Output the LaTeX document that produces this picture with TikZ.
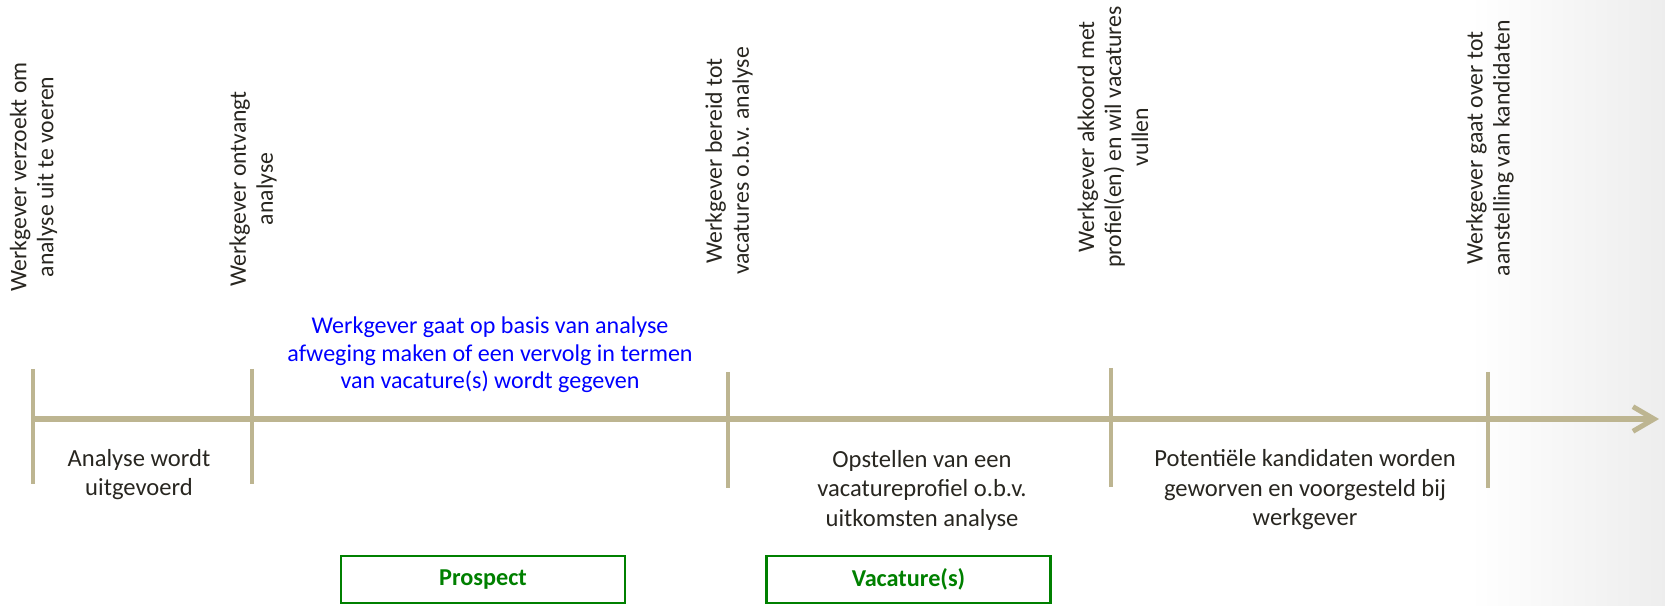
\documentclass[tikz,border=0pt]{standalone}
\usepackage{fontspec}
\setmainfont{Carlito}
\usetikzlibrary{arrows.meta}
\definecolor{khaki}{RGB}{189,181,145}
\definecolor{darktext}{RGB}{40,38,32}
\definecolor{boxgreen}{RGB}{0,128,0}

\begin{document}
\begin{tikzpicture}[
    event/.style={rotate=90, align=center, text=darktext, font=\fontsize{13.5}{15.4}\selectfont},
    remark/.style={align=center, text=blue, font=\fontsize{13.7}{15.7}\selectfont},
    phase/.style={align=center, text=darktext, font=\fontsize{14}{16.8}\selectfont},
    stagebox/.style={draw=boxgreen, line width=1.2pt, minimum width=5.68cm, minimum height=0.94cm, text=boxgreen, font=\bfseries\fontsize{13.8}{15}\selectfont},
    tickline/.style={khaki, line width=2.6pt},
    timeline/.style={khaki, line width=2.85pt}
  ]
    \useasboundingbox (0, 0) rectangle (33.3, 12.12);
    \shade[left color=white, right color=black!7] (29.4, 0) rectangle (33.3, 12.12);

    \coordinate (start) at (0.66, 3.74);
    \coordinate (end) at (33.18, 3.74);
    \draw[timeline, -{Straight Barb[length=12pt, width=14pt]}] (start) -- (end);
    \foreach \x/\top/\bot/\n in {0.66/4.74/2.44/t1, 5.04/4.74/2.44/t2, 14.56/4.68/2.36/t3, 22.22/4.76/2.38/t4, 29.76/4.68/2.36/t5} {
      \coordinate (\n top) at (\x, \top);
      \coordinate (\n bot) at (\x, \bot);
      \draw[tickline] (\n top) -- (\n bot);
    }

    \node[event] (verzoek) at (0.67, 8.58) {Werkgever verzoekt om\\analyse uit te voeren};
    \node[event] (ontvangt) at (5.06, 8.34) {Werkgever ontvangt\\analyse};
    \node[event] (bereid) at (14.58, 8.9) {Werkgever bereid tot\\vacatures o.b.v. analyse};
    \node[event] (akkoord) at (22.26, 9.38) {Werkgever akkoord met\\profiel(en) en wil vacatures\\vullen};
    \node[event] (aanstelling) at (29.8, 9.16) {Werkgever gaat over tot\\aanstelling van kandidaten};

    \node[remark] (afweging) at (9.8, 5.02) {Werkgever gaat op basis van analyse\\afweging maken of een vervolg in termen\\van vacature(s) wordt gegeven};

    \node[phase] (uitvoer) at (2.78, 2.63) {Analyse wordt\\uitgevoerd};
    \node[phase] (opstellen) at (18.44, 2.32) {Opstellen van een\\vacatureprofiel o.b.v.\\uitkomsten analyse};
    \node[phase] (werving) at (26.1, 2.32) {Potentiële kandidaten worden\\geworven en voorgesteld bij\\werkgever};

    \node[stagebox] (prospect) at (9.66, 0.53) {Prospect};
    \node[stagebox] (vacature) at (18.17, 0.53) {Vacature(s)};
\end{tikzpicture}
\end{document}
